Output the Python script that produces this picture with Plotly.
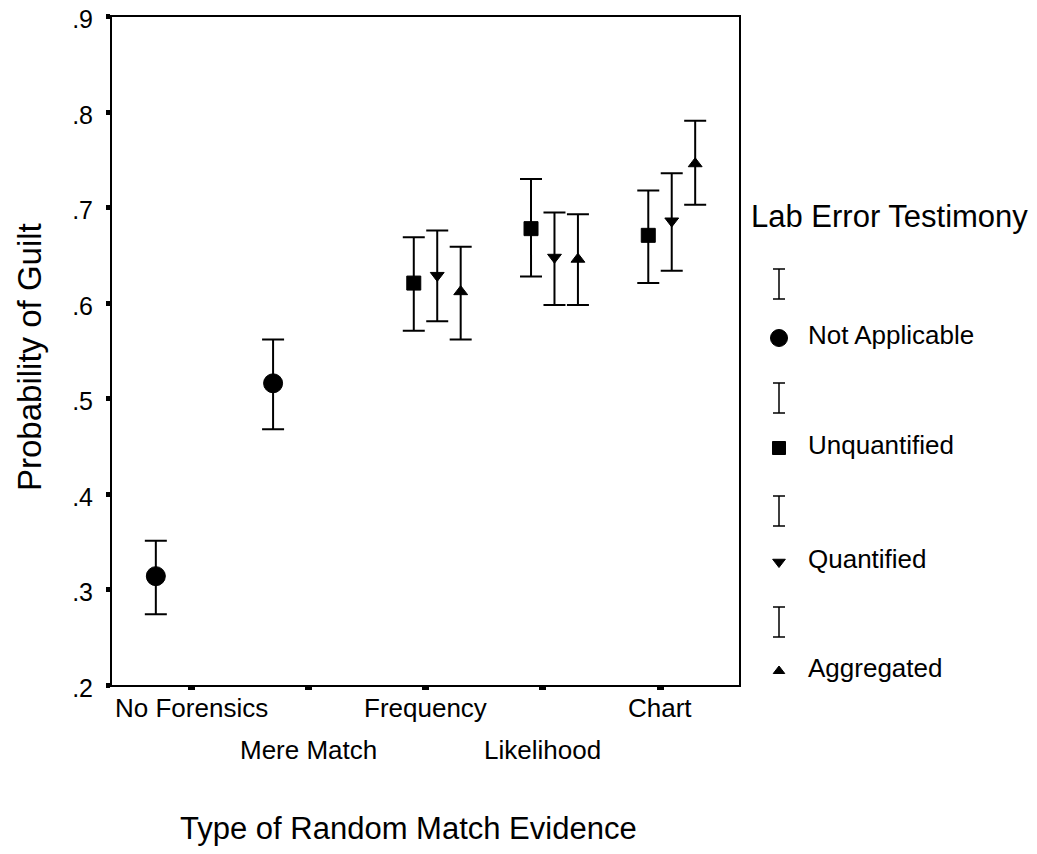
import plotly.graph_objects as go

# ---------------- data ----------------
categories = ["No Forensics", "Mere Match", "Frequency", "Likelihood", "Chart"]
y_tick_vals = [0.2, 0.3, 0.4, 0.5, 0.6, 0.7, 0.8, 0.9]
y_tick_text = [".2", ".3", ".4", ".5", ".6", ".7", ".8", ".9"]

series_names = ["Not Applicable", "Unquantified", "Quantified", "Aggregated"]
series_symbols = ["circle", "square", "triangle-down", "triangle-up"]
series_offsets = [-0.3, -0.1, 0.1, 0.3]

na_cat = [0, 1]
na_mean = [0.314, 0.516]
na_upper = [0.351, 0.562]
na_lower = [0.274, 0.468]

unq_cat = [2, 3, 4]
unq_mean = [0.621, 0.678, 0.671]
unq_upper = [0.669, 0.730, 0.718]
unq_lower = [0.571, 0.628, 0.621]

q_cat = [2, 3, 4]
q_mean = [0.629, 0.648, 0.686]
q_upper = [0.676, 0.695, 0.736]
q_lower = [0.581, 0.598, 0.634]

agg_cat = [2, 3, 4]
agg_mean = [0.612, 0.646, 0.746]
agg_upper = [0.659, 0.693, 0.791]
agg_lower = [0.562, 0.598, 0.703]

x_title = "Type of Random Match Evidence"
y_title = "Probability of Guilt"
legend_title = "Lab Error Testimony"

# ---------------- page geometry ----------------
PAGE_W, PAGE_H = 1037, 854
OFF = 8                      # default body margin of the html page
W, H = PAGE_W - OFF, PAGE_H - OFF


def px(xp):
    return (xp - OFF) / W


def py(yp):
    return 1 - (yp - OFF) / H


FONT = "Liberation Sans, Arial, sans-serif"
marker_sizes = [19, 14, 12, 12]
legend_marker_sizes = [17, 13, 11, 10]

series = [
    (na_cat, na_mean, na_upper, na_lower),
    (unq_cat, unq_mean, unq_upper, unq_lower),
    (q_cat, q_mean, q_upper, q_lower),
    (agg_cat, agg_mean, agg_upper, agg_lower),
]

fig = go.Figure()

for i, (cats, mean, up, lo) in enumerate(series):
    xs = [c + series_offsets[i] for c in cats]
    fig.add_trace(go.Scatter(
        x=xs, y=mean, mode="markers", name=series_names[i],
        marker=dict(symbol=series_symbols[i], size=marker_sizes[i], color="black",
                    line=dict(width=1, color="black")),
        error_y=dict(type="data", symmetric=False,
                     array=[u - m for u, m in zip(up, mean)],
                     arrayminus=[m - l for m, l in zip(mean, lo)],
                     color="black", thickness=2, width=11),
        xaxis="x", yaxis="y", showlegend=False, hoverinfo="skip",
    ))

# ---------------- custom legend (SPSS style) ----------------
LEG_DOM0 = 0.72
ibeam_y = [284, 398, 511, 622]
mark_y = [338, 448, 562, 671]
leg_sym_x = 779
leg_text_x = 806

for i in range(len(series_names)):
    fig.add_trace(go.Scatter(
        x=[leg_sym_x], y=[ibeam_y[i]], mode="markers",
        marker=dict(size=1, color="rgba(0,0,0,0)"),
        error_y=dict(type="constant", value=15, color="black", thickness=1.5, width=6),
        xaxis="x2", yaxis="y2", showlegend=False, hoverinfo="skip",
    ))
    fig.add_trace(go.Scatter(
        x=[leg_sym_x], y=[mark_y[i]], mode="markers",
        marker=dict(symbol=series_symbols[i], size=legend_marker_sizes[i], color="black",
                    line=dict(width=1, color="black")),
        xaxis="x2", yaxis="y2", showlegend=False, hoverinfo="skip",
    ))
    fig.add_annotation(x=leg_text_x, y=mark_y[i] - 3, xref="x2", yref="y2",
                       text=series_names[i], showarrow=False,
                       xanchor="left", yanchor="middle",
                       font=dict(family=FONT, size=26, color="black"))

fig.add_annotation(x=px(889), y=py(216), xref="paper", yref="paper",
                   text=legend_title, showarrow=False, xanchor="center", yanchor="middle",
                   font=dict(family=FONT, size=31, color="black"))

# ---------------- category labels (staggered) ----------------
row_y = [708, 750]
for i, c in enumerate(categories):
    fig.add_annotation(x=i, y=py(row_y[i % 2]), xref="x", yref="paper",
                       text=c, showarrow=False, xanchor="center", yanchor="middle",
                       font=dict(family=FONT, size=26, color="black"))

# axis titles
fig.add_annotation(x=px(408), y=py(828), xref="paper", yref="paper",
                   text=x_title, showarrow=False, xanchor="center", yanchor="middle",
                   font=dict(family=FONT, size=31, color="black"))
fig.add_annotation(x=px(29), y=py(357), xref="paper", yref="paper",
                   text=y_title, showarrow=False, xanchor="center", yanchor="middle",
                   textangle=-90, font=dict(family=FONT, size=33, color="black"))

x_left, x_right, y_top, y_bot = 112, 739, 16.7, 685
cat0_px, cat_step = 191, 117.25

fig.update_layout(
    width=W, height=H, autosize=False,
    margin=dict(l=0, r=0, t=0, b=0, pad=0, autoexpand=False),
    paper_bgcolor="white", plot_bgcolor="white",
    showlegend=False,
    xaxis=dict(
        domain=[px(x_left), px(x_right)],
        range=[(x_left - cat0_px) / cat_step, (x_right - cat0_px) / cat_step],
        tickvals=list(range(len(categories))), showticklabels=False,
        ticks="outside", ticklen=3, tickwidth=7, tickcolor="black",
        showline=True, linecolor="black", linewidth=2, mirror=True,
        showgrid=False, zeroline=False, fixedrange=True, automargin=False,
    ),
    yaxis=dict(
        domain=[py(y_bot), py(y_top)],
        range=[0.2, 0.9],
        tickvals=y_tick_vals, ticktext=y_tick_text,
        ticks="outside", ticklen=4, tickwidth=5, tickcolor="black",
        tickfont=dict(family=FONT, size=25, color="black"),
        ticklabelstandoff=8, ticklabeloverflow="allow", ticklabelshift=3,
        showline=True, linecolor="black", linewidth=2, mirror=True,
        showgrid=False, zeroline=False, fixedrange=True, automargin=False,
    ),
    xaxis2=dict(domain=[LEG_DOM0, 1.0], range=[OFF + LEG_DOM0 * W, OFF + W],
                visible=False, fixedrange=True, automargin=False),
    yaxis2=dict(domain=[0, 1], range=[OFF + H, OFF], visible=False,
                fixedrange=True, anchor="x2", automargin=False),
)
fig.update_traces(cliponaxis=False)

fig.write_html("out.html")
